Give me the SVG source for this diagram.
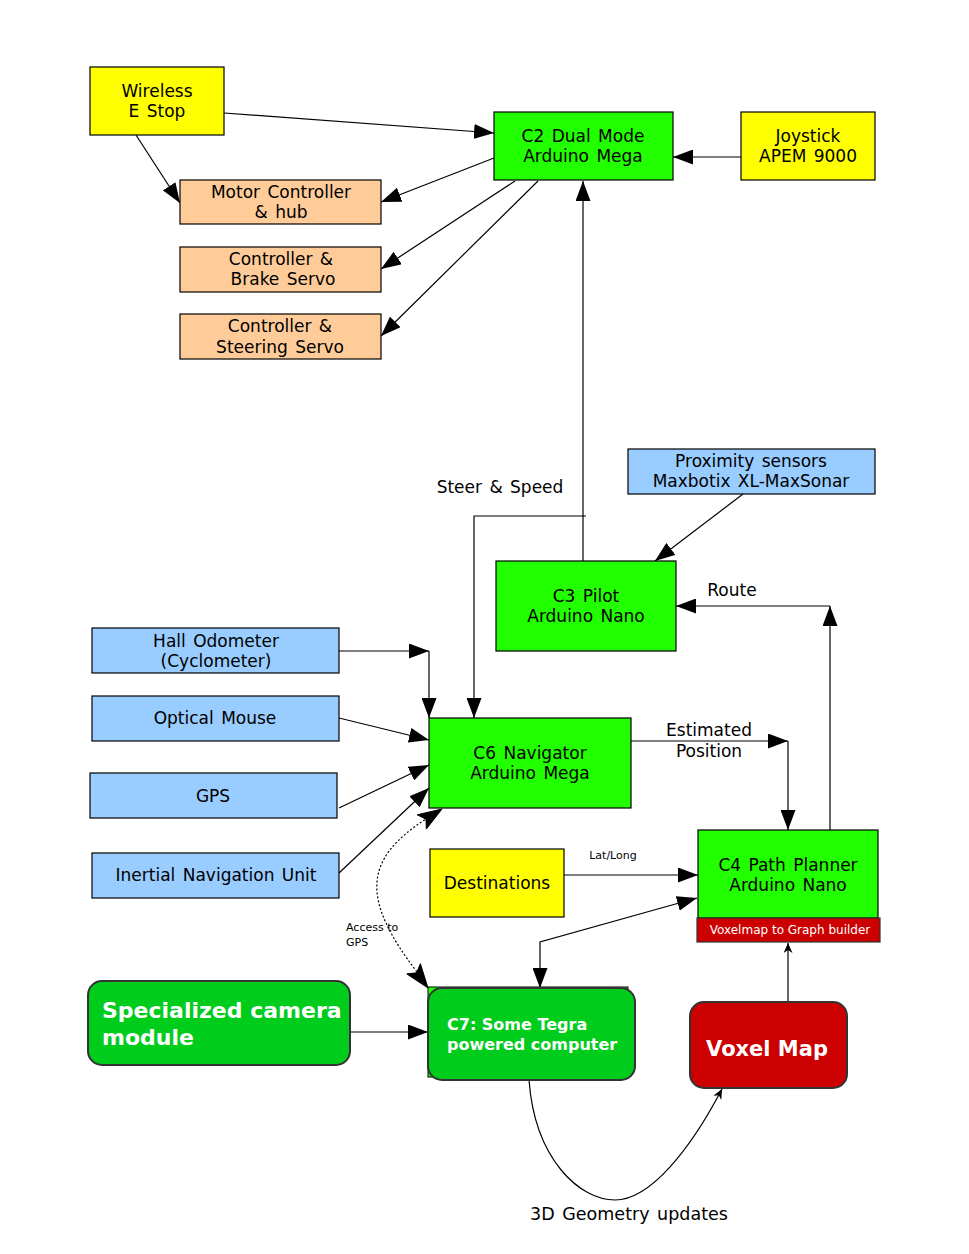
<svg xmlns="http://www.w3.org/2000/svg" width="969" height="1254" viewBox="0 0 969 1254">
<style>
text{font-family:"DejaVu Sans",Verdana,sans-serif;font-size:17px;fill:#000;word-spacing:2px}
.m{text-anchor:middle}
.box{stroke:#000;stroke-width:1.2}
.y{fill:#ffff00}.o{fill:#ffcc99}.g{fill:#22ff00}.b{fill:#99ccff}.r{fill:#cc0000}
.rg{fill:#00cc1c;stroke:#333;stroke-width:2}
.rr{fill:#cc0000;stroke:#333;stroke-width:2}
.w{fill:#fff;font-weight:bold;word-spacing:0}
.sm{font-size:11px;word-spacing:0}
.c{fill:none;stroke:#000;stroke-width:1.2}
.head{fill:#000;stroke:#000;stroke-width:1}
</style>
<defs>
<marker id="a" markerWidth="21" markerHeight="15" refX="20" refY="7.5" orient="auto-start-reverse" markerUnits="userSpaceOnUse"><path d="M0,0 L20,7.5 L0,15 Z" fill="#000"/></marker>
<marker id="s" markerWidth="11" markerHeight="9" refX="10" refY="4.5" orient="auto" markerUnits="userSpaceOnUse"><path d="M0,0 L10,4.5 L0,9 L3,4.5 Z" fill="#000"/></marker>
</defs>
<g id="connectors">
<path class="c" d="M224,113 L494,133" marker-end="url(#a)"/>
<path class="c" d="M136,135 L180,203" marker-end="url(#a)"/>
<path class="c" d="M494,158 L381,202" marker-end="url(#a)"/>
<path class="c" d="M515,181 L381,269" marker-end="url(#a)"/>
<path class="c" d="M538,181 L381,336" marker-end="url(#a)"/>
<path class="c" d="M741,157 L673,157" marker-end="url(#a)"/>
<path class="c" d="M583,561 L583,181" marker-end="url(#a)"/>
<path class="c" d="M586,516 H474 V718" marker-end="url(#a)"/>
<path class="c" d="M743,494 L655,561" marker-end="url(#a)"/>
<path class="c" d="M830,830 V606" marker-end="url(#a)"/>
<path class="c" d="M830,606 H676" marker-end="url(#a)"/>
<path class="c" d="M339,651 H429" marker-end="url(#a)"/>
<path class="c" d="M429,651 V718" marker-end="url(#a)"/>
<path class="c" d="M339,718 L429,740" marker-end="url(#a)"/>
<path class="c" d="M339,808 L429,765" marker-end="url(#a)"/>
<path class="c" d="M339,873 L429,788" marker-end="url(#a)"/>
<path class="c" d="M417,972 C362,900 362,860 426,819" stroke-dasharray="2,2" stroke-width="2"/>
<polygon class="head" points="442,809 426.3,829.1 426,819.2 417.2,814.8"/>
<polygon class="head" points="428,988 420.4,963.7 416.6,972.8 406.8,973.9"/>
<path class="c" d="M631,741 H788" marker-end="url(#a)"/>
<path class="c" d="M788,741 V830" marker-end="url(#a)"/>
<path class="c" d="M564,875 H698" marker-end="url(#a)"/>
<path class="c" d="M697,898 L540,942 V988" marker-start="url(#a)" marker-end="url(#a)"/>
<path class="c" d="M350,1032 H428" marker-end="url(#a)"/>
<path class="c" d="M788,1002 V943" marker-end="url(#s)"/>
<path class="c" d="M529,1080 C535,1160 580,1200 615,1200 C650,1200 690,1150 722,1089" marker-end="url(#s)"/>
<text class="m" x="500" y="493">Steer &amp; Speed</text>
<text class="m" x="732" y="596">Route</text>
<text class="m" x="709" y="736">Estimated</text>
<text class="m" x="709" y="757">Position</text>
<text class="m sm" x="613" y="859">Lat/Long</text>
<text class="sm" x="346" y="931">Access to</text>
<text class="sm" x="346" y="946">GPS</text>
<text class="m" x="629" y="1220" style="font-size:17.5px">3D Geometry updates</text>
</g>
<g id="wireless"><rect class="box y" x="90" y="67" width="134" height="68"/><text class="m" x="157" y="97">Wireless</text><text class="m" x="157" y="117">E Stop</text></g>
<g id="motor"><rect class="box o" x="180" y="180" width="201" height="44"/><text class="m" x="281" y="198">Motor Controller</text><text class="m" x="281" y="218">&amp; hub</text></g>
<g id="brake"><rect class="box o" x="180" y="247" width="201" height="45"/><text class="m" x="281" y="265">Controller &amp;</text><text class="m" x="283" y="285">Brake Servo</text></g>
<g id="steering"><rect class="box o" x="180" y="314" width="201" height="45"/><text class="m" x="280" y="332">Controller &amp;</text><text class="m" x="280" y="353">Steering Servo</text></g>
<g id="c2"><rect class="box g" x="494" y="112" width="179" height="68"/><text class="m" x="583" y="142">C2 Dual Mode</text><text class="m" x="583" y="162">Arduino Mega</text></g>
<g id="joystick"><rect class="box y" x="741" y="112" width="134" height="68"/><text class="m" x="808" y="142">Joystick</text><text class="m" x="808" y="162">APEM 9000</text></g>
<g id="proximity"><rect class="box b" x="628" y="449" width="247" height="45"/><text class="m" x="751" y="467">Proximity sensors</text><text class="m" x="751" y="487">Maxbotix XL-MaxSonar</text></g>
<g id="c3"><rect class="box g" x="496" y="561" width="180" height="90"/><text class="m" x="586" y="602">C3 Pilot</text><text class="m" x="586" y="622">Arduino Nano</text></g>
<g id="hall"><rect class="box b" x="92" y="628" width="247" height="45"/><text class="m" x="216" y="647">Hall Odometer</text><text class="m" x="216" y="667">(Cyclometer)</text></g>
<g id="mouse"><rect class="box b" x="92" y="696" width="247" height="45"/><text class="m" x="215" y="724">Optical Mouse</text></g>
<g id="gps"><rect class="box b" x="90" y="773" width="247" height="45"/><text class="m" x="213" y="802">GPS</text></g>
<g id="inu"><rect class="box b" x="92" y="853" width="247" height="45"/><text class="m" x="216" y="881">Inertial Navigation Unit</text></g>
<g id="c6"><rect class="box g" x="429" y="718" width="202" height="90"/><text class="m" x="530" y="759">C6 Navigator</text><text class="m" x="530" y="779">Arduino Mega</text></g>
<g id="destinations"><rect class="box y" x="430" y="849" width="134" height="68"/><text class="m" x="497" y="889">Destinations</text></g>
<g id="c4"><rect class="box g" x="698" y="830" width="180" height="88"/><text class="m" x="788" y="871">C4 Path Planner</text><text class="m" x="788" y="891">Arduino Nano</text><rect x="697" y="918" width="183" height="24" fill="#cc0000" stroke="#333" stroke-width="1.2"/><text class="m" x="790" y="934" style="font-size:12px;fill:#fff;word-spacing:0">Voxelmap to Graph builder</text></g>
<g id="camera"><rect class="rg" x="88" y="981" width="262" height="84" rx="14"/><text class="w" x="102" y="1018" style="font-size:22px">Specialized camera</text><text class="w" x="102" y="1045" style="font-size:22px">module</text></g>
<g id="c7"><rect x="428" y="987" width="200" height="90" fill="#22ff00" stroke="#000" stroke-width="1"/><rect class="rg" x="428" y="988" width="207" height="92" rx="14"/><text class="w" x="447" y="1030" style="font-size:16px">C7: Some Tegra</text><text class="w" x="447" y="1050" style="font-size:16px">powered computer</text></g>
<g id="voxelmap"><rect class="rr" x="690" y="1002" width="157" height="86" rx="14"/><text class="w m" x="767" y="1056" style="font-size:21px">Voxel Map</text></g>
</svg>
